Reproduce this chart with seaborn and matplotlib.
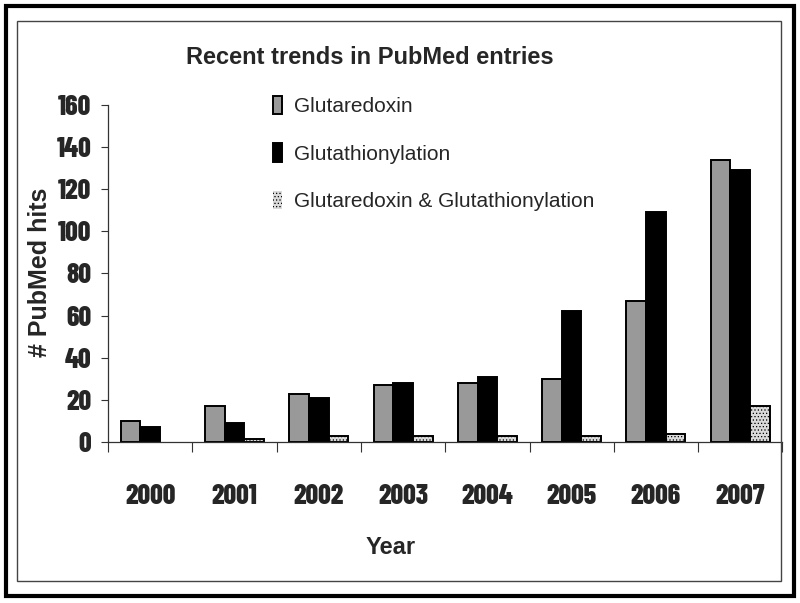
import matplotlib
matplotlib.use('Agg')
import matplotlib.pyplot as plt
from matplotlib import font_manager as fm
from matplotlib.patches import Rectangle
import seaborn as sns
import pandas as pd
import numpy as np

# Data
years = ['2000', '2001', '2002', '2003', '2004', '2005', '2006', '2007']
series = ['Glutaredoxin', 'Glutathionylation', 'Glutaredoxin & Glutathionylation']
glutaredoxin = [10, 17, 23, 27, 28, 30, 67, 134]
glutathionylation = [7, 9, 21, 28, 31, 62, 109, 129]
both = [0, 1.5, 3, 3, 3, 3, 4, 17]
yticks = [0, 20, 40, 60, 80, 100, 120, 140, 160]

df = pd.DataFrame({
    'year': years * 3,
    'hits': glutaredoxin + glutathionylation + both,
    'series': [series[0]] * 8 + [series[1]] * 8 + [series[2]] * 8,
})

sns.set_style('white')
plt.rcParams['font.family'] = ['Liberation Sans', 'DejaVu Sans']
plt.rcParams['hatch.linewidth'] = 0.5

# the tick labels are a squeezed heavy face; take the first narrow family with a bold cut
weights = {}
for f in fm.fontManager.ttflist:
    w = f.weight if isinstance(f.weight, int) else fm.weight_dict.get(f.weight, 400)
    weights.setdefault(f.name, set()).add(w)

narrow_name, tick_size, tick_weight = 'DejaVu Sans', 14, 'bold'
for cand, size, wt in [('Barlow Condensed', 20, 800), ('Roboto Condensed', 19, 700),
                       ('Archivo Narrow', 19, 700), ('PT Sans Narrow', 19, 700),
                       ('Liberation Sans Narrow', 19, 700), ('Oswald', 17, 700)]:
    if cand in weights and max(weights[cand]) >= 700:
        narrow_name, tick_size, tick_weight = cand, size, min(wt, max(weights[cand]))
        break
narrow = [narrow_name, 'DejaVu Sans']

fig = plt.figure(figsize=(8, 6.03), dpi=100)
ax = fig.add_axes([0.135, 0.267, 0.843, 0.559])

sns.barplot(data=df, x='year', y='hits', hue='series', order=years, hue_order=series,
            palette=['#999999', '#000000', '#dadada'], saturation=1, width=0.7,
            edgecolor='black', linewidth=1.4, ax=ax)

for p in ax.containers[2].patches:
    p.set_hatch('.....')
for c in ax.containers:
    for p in c.patches:
        if p.get_height() == 0:
            p.set_linewidth(0)

ax.set_ylim(0, 160)
ax.set_xlim(-0.5, 7.5)
ax.set_yticks(yticks)
ax.set_yticklabels([str(v) for v in yticks], family=narrow, fontweight=tick_weight, fontsize=tick_size)
ax.set_xticks(range(len(years)))
ax.set_xticklabels(years, family=narrow, fontweight=tick_weight, fontsize=tick_size)
ax.set_xticks(np.arange(-0.5, 8, 1), minor=True)
ax.tick_params(axis='x', which='major', length=0, pad=30)
ax.tick_params(axis='x', which='minor', length=7, width=0.8, color='#333333', direction='out', bottom=True)
ax.tick_params(axis='y', length=5, width=0.8, color='#333333', direction='out', left=True, pad=7)
ax.set_xlabel('')
ax.set_ylabel('')

for s in ['top', 'right']:
    ax.spines[s].set_visible(False)
for s in ['left', 'bottom']:
    ax.spines[s].set_color('#333333')
    ax.spines[s].set_linewidth(0.9)

ax.legend(handles=ax.containers, labels=series, loc='upper left',
          bbox_to_anchor=(0.217, 1.083), frameon=False, fontsize=15,
          handlelength=0.45, handleheight=1.0, handletextpad=0.55, labelspacing=1.3)

fig.text(370 / 800, 1 - 57 / 603, 'Recent trends in PubMed entries',
         ha='center', va='center', fontsize=17, fontweight='bold')
fig.text(391 / 800, 1 - 548 / 603, 'Year', ha='center', va='center',
         fontsize=17, fontweight='bold')
fig.text(40 / 800, 1 - 272 / 603, '# PubMed hits', ha='center', va='center',
         rotation=90, fontsize=18, fontweight='bold')

# double frame around the chart
fig.patches.append(Rectangle((17 / 800, 1 - 581 / 603), 764 / 800, 560 / 603,
                             transform=fig.transFigure, fill=False,
                             edgecolor='#444444', linewidth=1))
fig.patches.append(Rectangle((6 / 800, 1 - 596 / 603), 788 / 800, 590 / 603,
                             transform=fig.transFigure, fill=False,
                             edgecolor='black', linewidth=3))

fig.savefig('out.png', dpi=100)
